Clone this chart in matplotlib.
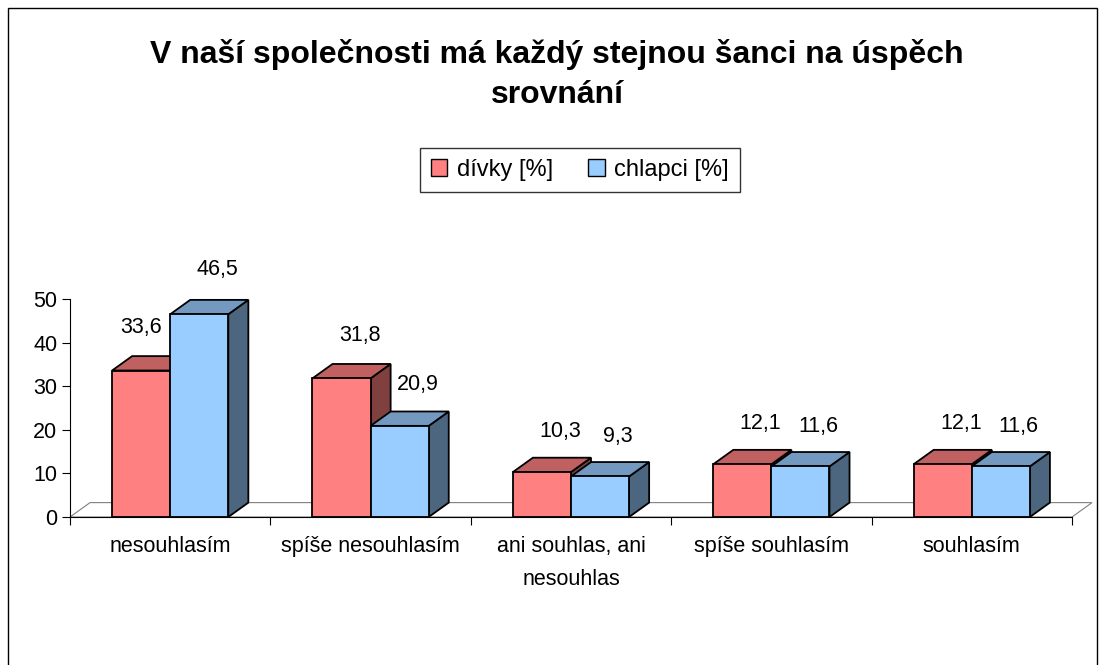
import matplotlib.pyplot as plt
from matplotlib.patches import Polygon, Rectangle

categories = ['nesouhlasím', 'spíše nesouhlasím', 'ani souhlas, ani\nnesouhlas',
              'spíše souhlasím', 'souhlasím']
divky = [33.6, 31.8, 10.3, 12.1, 12.1]
chlapci = [46.5, 20.9, 9.3, 11.6, 11.6]
series_names = ['dívky [%]', 'chlapci [%]']
title_lines = ['V naší společnosti má každý stejnou šanci na úspěch', 'srovnání']

plt.rcParams['font.family'] = ['Liberation Sans', 'DejaVu Sans']

fig = plt.figure(figsize=(10.99, 6.65), dpi=100)
ax = fig.add_axes([70 / 1099, 148 / 665, 1022 / 1099, 218 / 665])
ax.set_xlim(0, 5.1)
ax.set_ylim(0, 50)

w = 0.29      # bar width in category units
dx, dy = 0.1, 3.3   # fake 3d depth
# front, top, side colours
styles = [('#FF8080', '#C06060', '#804040'),
          ('#99CCFF', '#7399C0', '#4D6680')]

# floor
n = len(categories)
ax.add_patch(Polygon([(0, 0), (n, 0), (n + dx, dy), (dx, dy)], closed=True,
                     facecolor='white', edgecolor='#808080', lw=0.8, zorder=1, clip_on=False))

z = 2
for i in range(n):
    pair = [divky[i], chlapci[i]]
    for s, v in enumerate(pair):
        x0 = i + 0.21 + s * w
        front, top, side = styles[s]
        ax.add_patch(Polygon([(x0 + w, 0), (x0 + w + dx, dy), (x0 + w + dx, v + dy), (x0 + w, v)],
                             closed=True, facecolor=side, edgecolor='black', lw=1.3,
                             zorder=z, clip_on=False))
        ax.add_patch(Polygon([(x0, v), (x0 + w, v), (x0 + w + dx, v + dy), (x0 + dx, v + dy)],
                             closed=True, facecolor=top, edgecolor='black', lw=1.3,
                             zorder=z, clip_on=False))
        ax.bar(x0, v, width=w, align='edge', color=front, edgecolor='black',
               lw=1.3, zorder=z + 1)
        # label shifted towards the depth, unless the next bar is taller
        shift = 0.09
        if s == 0 and pair[1] > v + 5:
            shift = 0.0
        ax.text(x0 + w / 2 + shift, v + 8.9 + 0.03 * v, f'{v:.1f}'.replace('.', ','),
                ha='center', va='center', fontsize=15.5, zorder=50)
        z += 2

# axes
for sp in ['top', 'right']:
    ax.spines[sp].set_visible(False)
ax.spines['bottom'].set_bounds(0, n)
ax.spines['left'].set_zorder(100)
ax.spines['bottom'].set_zorder(100)
ax.set_yticks(range(0, 51, 10))
ax.set_xticks(range(0, n + 1))
ax.set_xticklabels([])
ax.set_xticks([i + 0.5 for i in range(n)], minor=True)
ax.set_xticklabels(categories, minor=True, fontsize=15.5, linespacing=1.7)
ax.tick_params(axis='x', which='major', length=6, direction='out')
ax.tick_params(axis='x', which='minor', length=0, pad=14)
ax.tick_params(axis='y', length=6, labelsize=15.5, pad=3)

# legend
handles = [Rectangle((0, 0), 1, 1, facecolor=styles[k][0], edgecolor='black', lw=1)
           for k in range(2)]
leg = fig.legend(handles, series_names, loc='center', bbox_to_anchor=(580 / 1099, 1 - 170 / 665),
                 ncol=2, fontsize=17, frameon=True, fancybox=False, handlelength=0.7,
                 handleheight=0.7, handletextpad=0.4, columnspacing=1.5, borderpad=0.45)
leg.get_frame().set_edgecolor('black')
leg.get_frame().set_linewidth(1)

# title
fig.text(557 / 1099, 1 - 55 / 665, title_lines[0], ha='center', va='center',
         fontsize=23, fontweight='bold')
fig.text(557 / 1099, 1 - 95 / 665, title_lines[1], ha='center', va='center',
         fontsize=23, fontweight='bold')

# outer frame
fig.add_artist(Rectangle((8 / 1099, -0.05), 1089 / 1099, 1 - 8 / 665 + 0.05,
                         transform=fig.transFigure, fill=False, edgecolor='black', lw=1))

fig.savefig('out.png', dpi=100)
